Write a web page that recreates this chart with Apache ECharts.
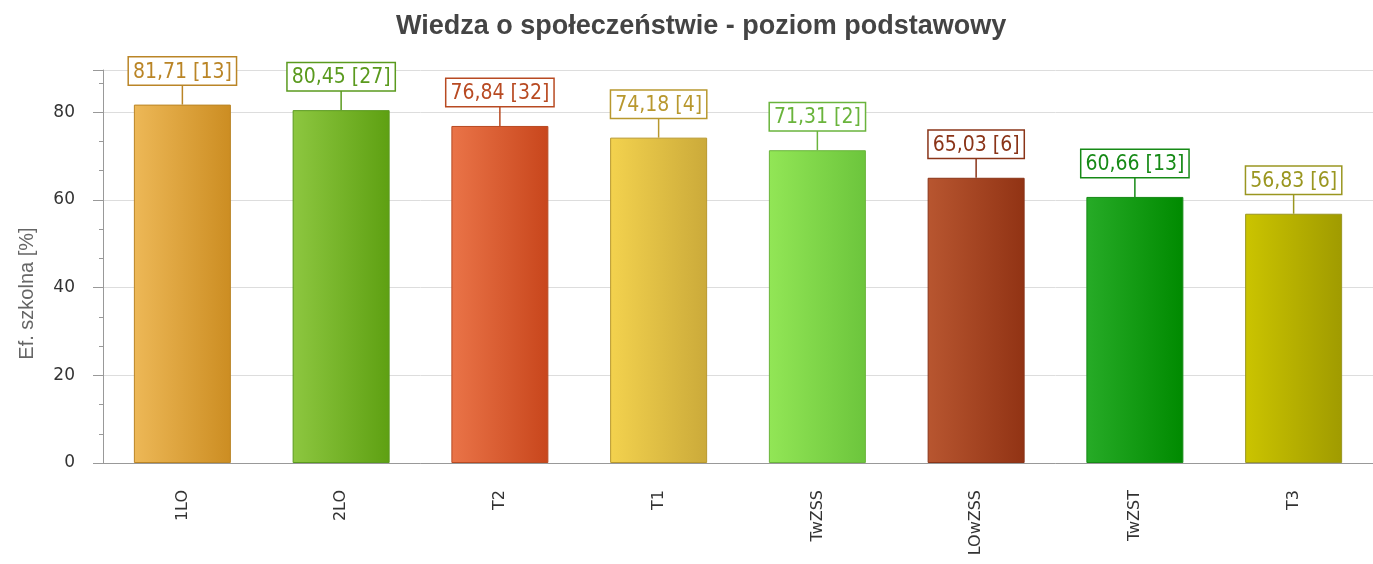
<!DOCTYPE html>
<html>
<head>
<meta charset="utf-8">
<script src="https://cdn.jsdelivr.net/npm/echarts@6/dist/echarts.min.js"></script>
<style>
  html, body { margin: 0; padding: 0; background: #fff; }
  #chart-container { width: 1373px; height: 564px; }
</style>
</head>
<body>
<div id="chart-container"></div>
<script>
var categories = ["1LO", "2LO", "T2", "T1", "TwZSS", "LOwZSS", "TwZST", "T3"];
var values = [81.71, 80.45, 76.84, 74.18, 71.31, 65.03, 60.66, 56.83];
var counts = [13, 27, 32, 4, 2, 6, 13, 6];
var colorStart = ["#EDB857", "#8DC740", "#EA7448", "#F3D24E", "#92E656", "#B85630", "#27AB27", "#CBC400"];
var colorEnd = ["#CC8D22", "#5EA012", "#C8461C", "#CBAA3A", "#6CC53C", "#913314", "#008A00", "#A09B00"];
var edgeColors = ["#BA8526", "#5A9A1E", "#B84A22", "#B8982E", "#6AB43C", "#8A3418", "#168A16", "#9A9620"];

var dom = document.getElementById("chart-container");
var myChart = echarts.init(dom, null, { renderer: "canvas" });

var stemLen = 20;
var barData = values.map(function (v, i) {
  return {
    value: v,
    itemStyle: {
      color: new echarts.graphic.LinearGradient(0, 0, 1, 0, [
        { offset: 0, color: colorStart[i] },
        { offset: 1, color: colorEnd[i] }
      ]),
      borderColor: edgeColors[i],
      borderWidth: 1
    },
    label: {
      color: edgeColors[i],
      borderColor: edgeColors[i]
    }
  };
});

// 5 small ticks per category band
var subTicks = [];
for (var k = 0; k < categories.length * 5; k++) subTicks.push("");

var option = {
  animation: false,
  title: {
    text: "Wiedza o społeczeństwie - poziom podstawowy",
    left: 391,
    top: 8,
    textStyle: {
      fontFamily: "Liberation Sans",
      fontSize: 27,
      fontWeight: "bold",
      color: "#444"
    }
  },
  grid: { left: 103, right: -10, top: 70, bottom: 101 },
  xAxis: [
    {
      type: "category",
      data: categories,
      axisLine: { lineStyle: { color: "#999", width: 1 } },
      axisTick: { alignWithLabel: true, length: 9, lineStyle: { color: "#999" } },
      axisLabel: {
        rotate: 90,
        margin: 27,
        fontFamily: "DejaVu Sans",
        fontSize: 16,
        color: "#333"
      }
    },
    {
      type: "category",
      data: subTicks,
      position: "bottom",
      axisLine: { show: false },
      axisTick: { alignWithLabel: true, interval: 0, length: 5, lineStyle: { color: "#999" } },
      axisLabel: { show: false }
    }
  ],
  yAxis: {
    type: "value",
    min: 0,
    max: 89.6,
    interval: 20,
    name: "Ef. szkolna [%]",
    nameLocation: "middle",
    nameGap: 66,
    nameTextStyle: {
      fontFamily: "Liberation Sans",
      fontSize: 20,
      color: "#666",
      padding: [0, 54, 0, 0]
    },
    axisLine: { show: true, lineStyle: { color: "#999" } },
    axisTick: { show: true, length: 10, lineStyle: { color: "#999" } },
    minorTick: { show: true, splitNumber: 3, length: 4, lineStyle: { color: "#999" } },
    axisLabel: {
      margin: 28,
      fontFamily: "DejaVu Sans",
      fontSize: 17,
      color: "#333",
      formatter: function (v) { return v % 20 === 0 ? String(v) : ""; }
    },
    splitLine: { show: true, lineStyle: { color: "#ddd" } }
  },
  series: [
    {
      type: "bar",
      data: barData,
      barWidth: 97,
      label: {
        show: true,
        position: "top",
        distance: stemLen,
        fontFamily: "'DejaVu Sans Condensed', 'DejaVu Sans'",
        fontSize: 21,
        backgroundColor: "#fff",
        borderWidth: 1.5,
        padding: [4, 4, 2, 4],
        formatter: function (p) {
          return p.value.toFixed(2).replace(".", ",") + " [" + counts[p.dataIndex] + "]";
        }
      }
    },
    {
      type: "custom",
      data: values.map(function (v, i) { return [i, v]; }),
      z: 1,
      renderItem: function (params, api) {
        var p = api.coord([api.value(0), api.value(1)]);
        return {
          type: "line",
          shape: { x1: p[0], y1: p[1], x2: p[0], y2: p[1] - stemLen },
          style: { stroke: edgeColors[params.dataIndex], lineWidth: 1.5 }
        };
      }
    }
  ]
};

myChart.setOption(option);
window.addEventListener("resize", myChart.resize);
</script>
</body>
</html>
